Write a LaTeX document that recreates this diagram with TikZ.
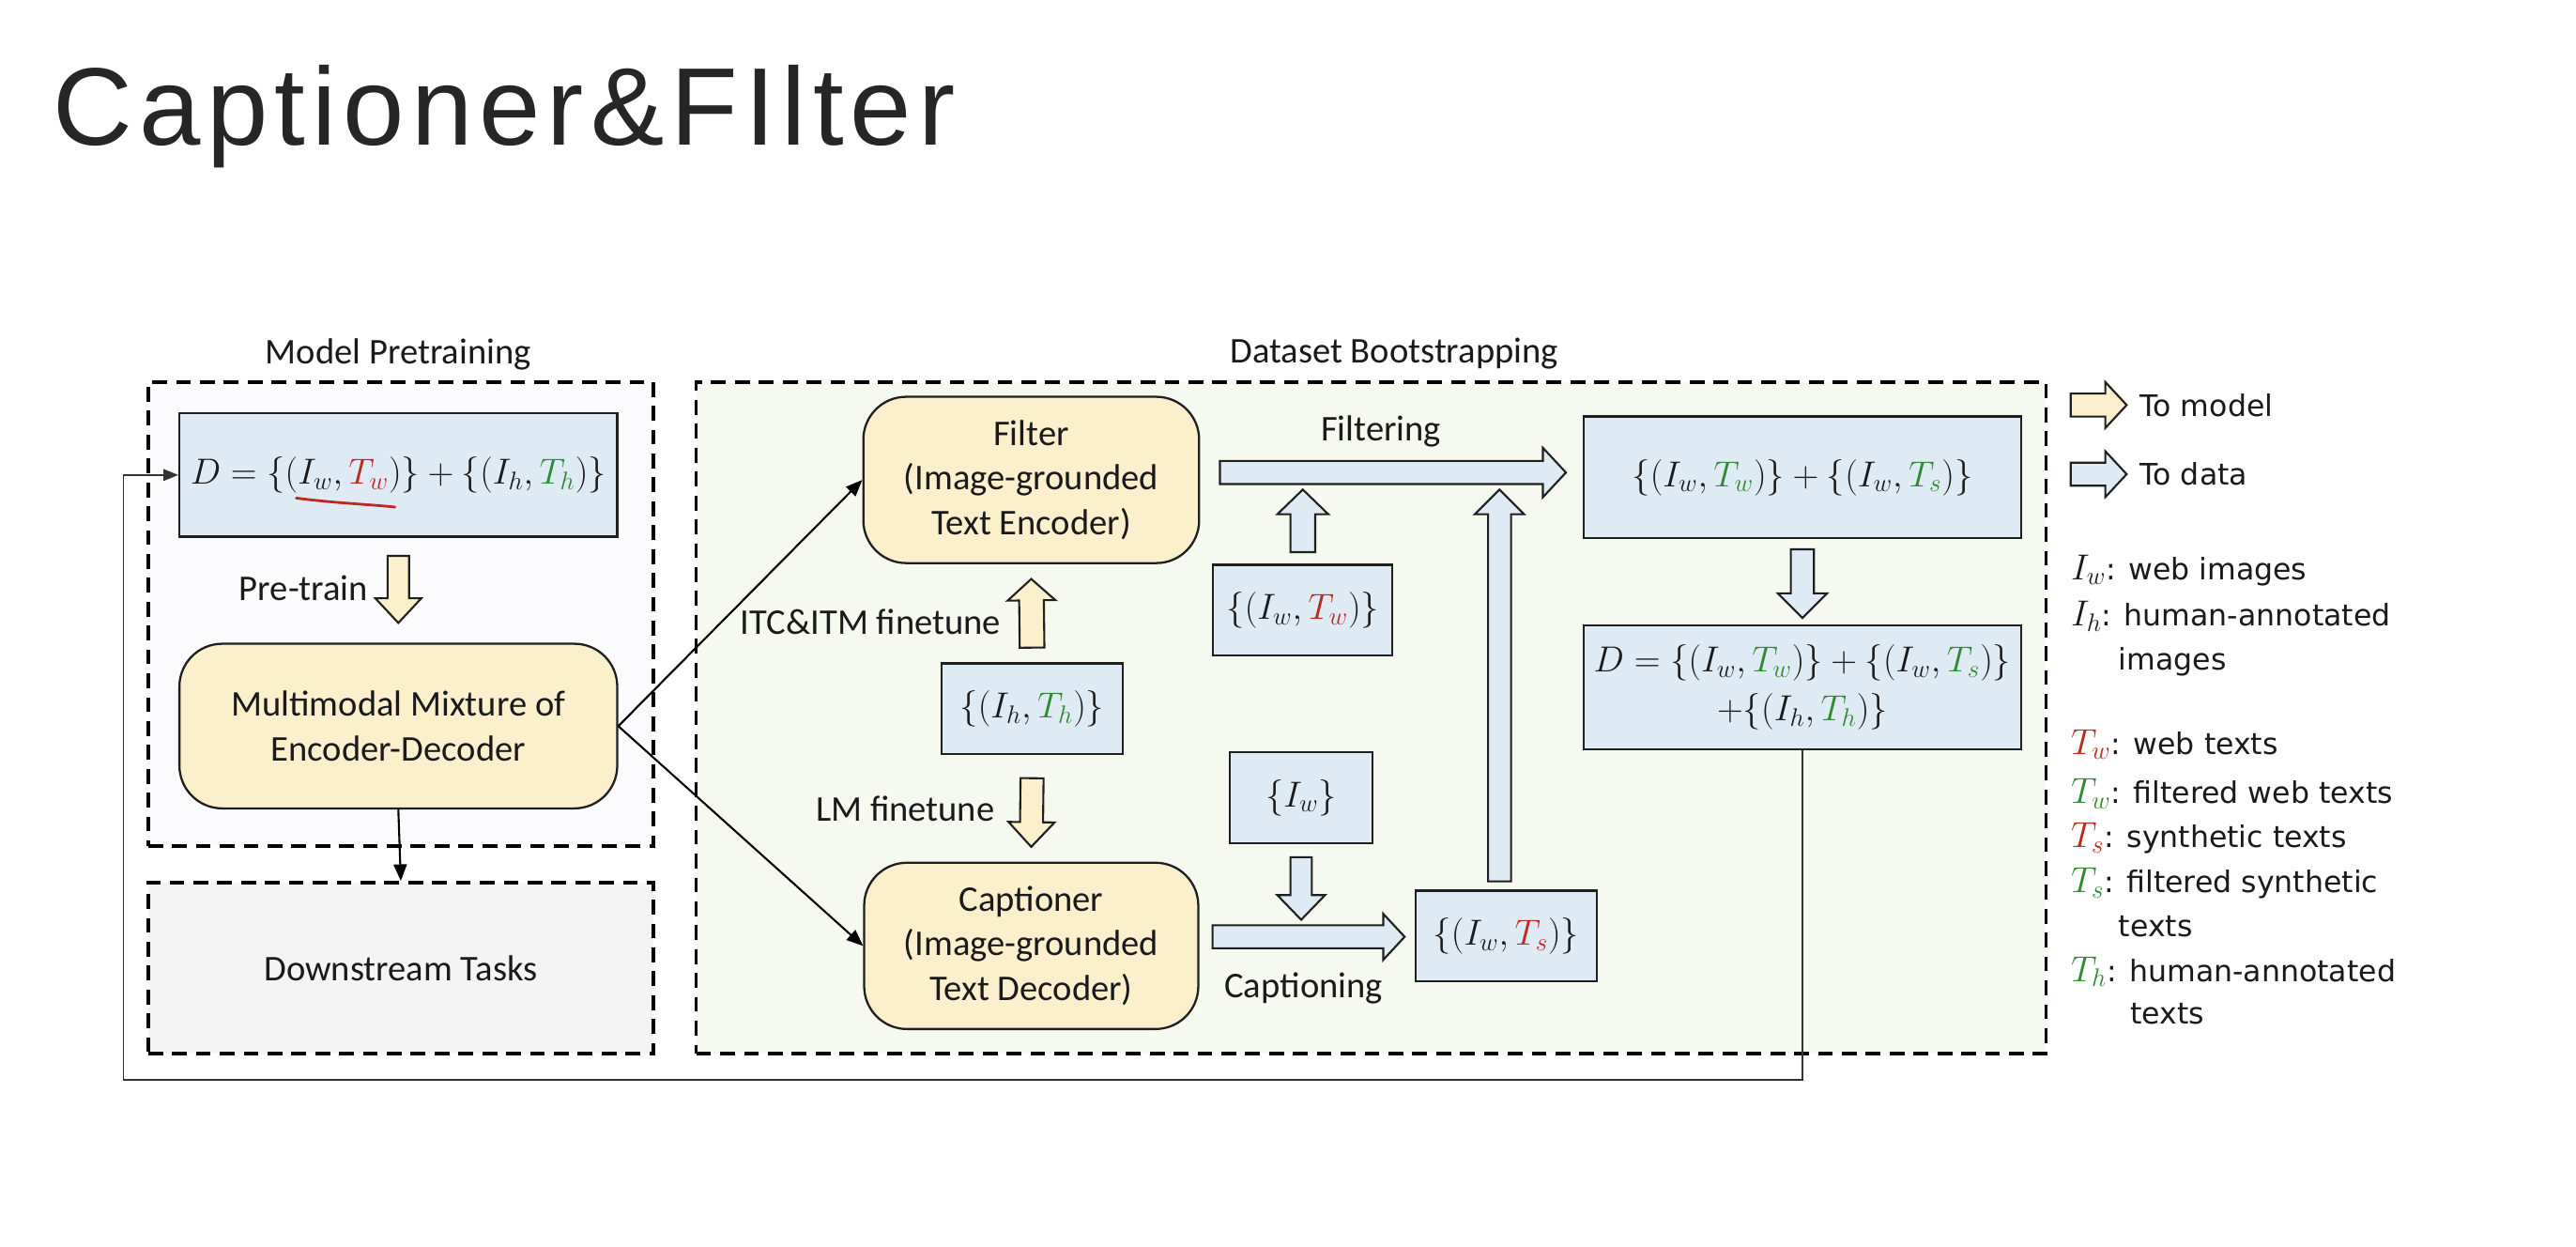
\RequirePackage{fix-cm}
\documentclass[tikz,border=0pt]{standalone}
\usepackage{fontspec}
\setmainfont{Carlito}
\newfontfamily\titlefont[LetterSpace=6]{Liberation Sans}
\newfontfamily\legfont{DejaVu Sans}
\usetikzlibrary{calc,arrows.meta}
\definecolor{txt}{HTML}{1A1A1A}
\definecolor{bord}{HTML}{1F1F1F}
\definecolor{blu}{HTML}{DEEBF5}
\definecolor{yel}{HTML}{FCEFCC}
\definecolor{tred}{HTML}{C0281E}
\definecolor{tgrn}{HTML}{2E8B2E}
\definecolor{pfill}{HTML}{FBFAFD}
\definecolor{dfill}{HTML}{F6F9F0}
\definecolor{gfill}{HTML}{F4F4F4}
\definecolor{ttl}{HTML}{262626}
\newcommand{\redT}[1]{\textcolor{tred}{#1}}
\newcommand{\grnT}[1]{\textcolor{tgrn}{#1}}
\newcommand{\legm}[1]{{\fontsize{22}{22}\selectfont$#1$}}
% block arrow: fill, start, end, shaft half width, head half width, head length
\newcommand{\barrow}[6]{%
  \coordinate (ba-s) at #2;
  \coordinate (ba-e) at #3;
  \coordinate (ba-h) at ($(ba-e)!#6!(ba-s)$);
  \draw[line width=1.2pt, draw=bord, fill=#1, line join=miter]
    ($(ba-s)!#4!90:(ba-e)$) -- ($(ba-h)!#4!-90:(ba-s)$) -- ($(ba-h)!#5!-90:(ba-s)$)
    -- (ba-e) -- ($(ba-h)!#5!90:(ba-s)$) -- ($(ba-h)!#4!90:(ba-s)$)
    -- ($(ba-s)!#4!-90:(ba-e)$) -- cycle;
}
\tikzset{
  lbl/.style={font=\fontsize{22}{27}\selectfont, text=txt, inner sep=0pt, align=center},
  bbox/.style={draw=bord, line width=1.3pt, fill=blu, inner sep=0pt, align=center, font=\fontsize{22}{30}\selectfont, text=txt},
  mbox/.style={draw=bord, line width=1.3pt, fill=yel, rounded corners=26pt, inner sep=0pt, align=center, font=\fontsize{22}{27}\selectfont, text=txt},
  region/.style={draw=black, line width=2pt, dash pattern=on 9pt off 5.5pt, inner sep=0pt},
  conn/.style={draw=black, line width=1.2pt, -{Triangle[length=10pt,width=8pt]}},
  fbline/.style={draw=black!80, line width=1pt, -{Triangle[length=9pt,width=7pt]}},
  leg/.style={font=\legfont\fontsize{18}{22}\selectfont, text=txt, inner sep=0pt, anchor=base west},
}
\begin{document}
\begin{tikzpicture}[x=1pt,y=-1pt]
\useasboundingbox (0,0) rectangle (1565,757.4);
\fill[white] (0,0) rectangle (1565,757.4);

% title
\node[anchor=base west, font=\titlefont\fontsize{67}{67}\selectfont, text=ttl, inner sep=0pt] (title) at (32,88) {Captioner\&FIlter};

% regions
\node[region, fill=pfill, minimum width=307pt, minimum height=282pt] (mp) at (243.5,373) {};
\node[region, fill=gfill, minimum width=307pt, minimum height=104pt, font=\fontsize{22}{27}\selectfont, text=txt] (dst) at (243.5,588) {Downstream Tasks};
\node[region, fill=dfill, minimum width=820pt, minimum height=408pt] (dbs) at (833,436) {};
\node[lbl] (mplab) at (242,215) {Model Pretraining};
\node[lbl] (dblab) at (847,215) {Dataset Bootstrapping};

% model pretraining
\node[bbox, minimum width=266pt, minimum height=75pt] (d0) at (242,288.5)
  {$D=\{(I_w,\redT{T_w})\}+\{(I_h,\grnT{T_h})\}$};
\draw[tred, line width=1.6pt, line cap=round]
  ($(d0.center)+(-62,14)$) .. controls ($(d0.center)+(-40,17)$) and ($(d0.center)+(-15,18)$) .. ($(d0.center)+(-2,19.5)$);
\node[mbox, minimum width=266pt, minimum height=100pt] (mmed) at (242,441)
  {Multimodal Mixture of\\Encoder-Decoder};
\barrow{yel}{($(d0.south)+(0,11)$)}{($(mmed.north)+(0,-12)$)}{6.5pt}{14pt}{15pt}
\node[lbl] (pt) at (184.5,357) {Pre-train};
\draw[conn] (mmed.south) -- (dst.north);

% dataset bootstrapping
\node[mbox, minimum width=204pt, minimum height=101pt] (filter) at (626.5,291.5)
  {Filter\\(Image-grounded\\Text Encoder)};
\node[mbox, minimum width=203pt, minimum height=101pt] (cap) at (626.5,574.5)
  {Captioner\\(Image-grounded\\Text Decoder)};
\node[bbox, minimum width=110pt, minimum height=55pt] (ih) at (627,430.5) {$\{(I_h,\grnT{T_h})\}$};
\node[bbox, minimum width=109pt, minimum height=55pt] (iwtw) at (791.5,370.5) {$\{(I_w,\redT{T_w})\}$};
\node[bbox, minimum width=87pt, minimum height=55pt] (iw) at (790.5,484.5) {$\{I_w\}$};
\node[bbox, minimum width=110pt, minimum height=55pt] (iwts) at (915,568.5) {$\{(I_w,\redT{T_s})\}$};
\node[bbox, minimum width=266pt, minimum height=74pt] (g1) at (1095,290)
  {$\{(I_w,\grnT{T_w})\}+\{(I_w,\grnT{T_s})\}$};
\node[bbox, minimum width=266pt, minimum height=75pt] (g2) at (1095,417.5)
  {$D=\{(I_w,\grnT{T_w})\}+\{(I_w,\grnT{T_s})\}$\\$+\{(I_h,\grnT{T_h})\}$};

\draw[conn] (mmed.east) -- (filter.west);
\draw[conn] (mmed.east) -- (cap.west);

\barrow{yel}{($(ih.north)+(0,-9)$)}{($(filter.south)+(0,9)$)}{7.5pt}{14.5pt}{13pt}
\node[lbl] (itc) at (529,378) {ITC\&ITM finetune};
\barrow{yel}{($(ih.south)+(0,14)$)}{($(cap.north)+(0,-9)$)}{7pt}{14pt}{15pt}
\node[lbl] (lm) at (550,491) {LM finetune};

\barrow{blu}{($(filter.east)+(12,-4.5)$)}{($(g1.west)+(-10,-3)$)}{7pt}{15pt}{14pt}
\node[lbl] (filt) at (839,262) {Filtering};
\barrow{blu}{($(iwtw.north)+(0,-7)$)}{($(iwtw.north)+(0,-45)$)}{7.5pt}{15.5pt}{15pt}
\barrow{blu}{($(iw.south)+(0,8)$)}{($(iw.south)+(0,46)$)}{6.5pt}{14.5pt}{15pt}
\barrow{blu}{($(cap.east)+(8,-5.5)$)}{($(iwts.west)+(-6,0.5)$)}{7pt}{14pt}{13pt}
\node[lbl] (capt) at (792,600) {Captioning};
\barrow{blu}{($(iwts.north)+(-4,-5)$)}{($(iwts.north)+(-4,-243)$)}{7pt}{15pt}{15pt}
\barrow{blu}{($(g1.south)+(0,6)$)}{($(g2.north)+(0,-4)$)}{7pt}{15pt}{15pt}

% feedback line
\coordinate (fbc) at (75,656);
\draw[fbline] (g2.south) |- (fbc) |- (d0.west);

% legend
\barrow{yel}{(1258,246)}{(1292,246)}{7pt}{14pt}{13pt}
\node[leg, anchor=west] (tomodel) at (1300,246) {To model};
\barrow{blu}{(1258,288)}{(1292,288)}{7pt}{14pt}{13pt}
\node[leg, anchor=west] (todata) at (1300,288) {To data};
\node[leg] (l1) at (1258,352) {\legm{I_w}: web images};
\node[leg] (l2) at (1258,380) {\legm{I_h}: human-annotated};
\node[leg] (l3) at (1287,407) {images};
\node[leg] (l4) at (1258,458) {\legm{\redT{T_w}}: web texts};
\node[leg] (l5) at (1258,488) {\legm{\grnT{T_w}}: filtered web texts};
\node[leg] (l6) at (1258,515) {\legm{\redT{T_s}}: synthetic texts};
\node[leg] (l7) at (1258,542) {\legm{\grnT{T_s}}: filtered synthetic};
\node[leg] (l8) at (1287,569) {texts};
\node[leg] (l9) at (1258,596) {\legm{\grnT{T_h}}: human-annotated};
\node[leg] (l10) at (1294,622) {texts};
\end{tikzpicture}
\end{document}
